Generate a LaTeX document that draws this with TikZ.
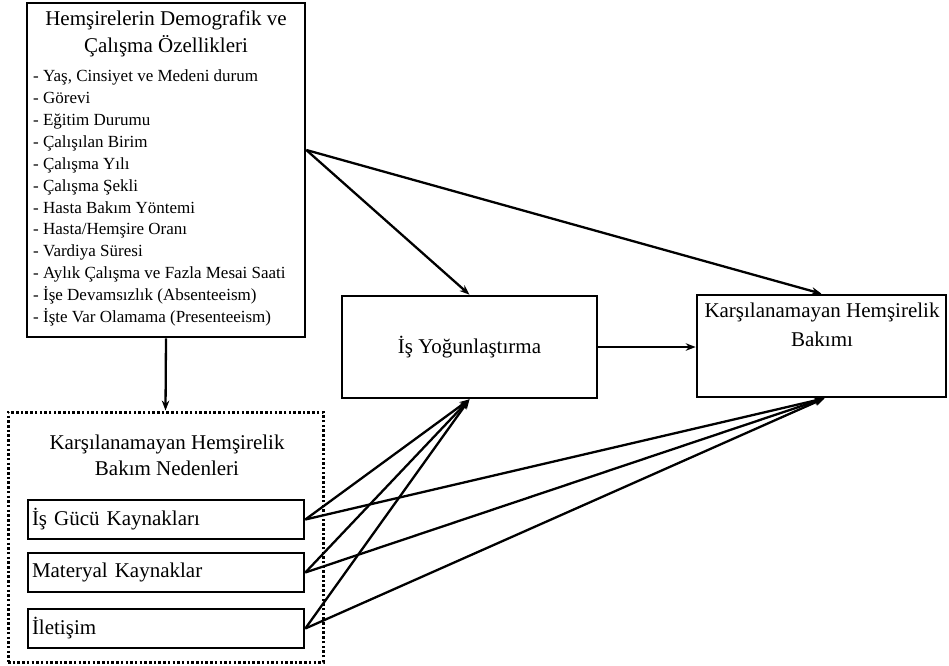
\documentclass[tikz,border=0pt]{standalone}
\usepackage{fontspec}
\setmainfont{Liberation Serif}
\usetikzlibrary{arrows.meta}
\begin{document}
\begin{tikzpicture}[x=1pt,y=-1pt,
  box/.style={draw,line width=2.6pt,inner sep=0pt},
  dotbox/.style={draw,line width=3pt,dash pattern=on 2.5pt off 2.2pt,inner sep=0pt},
  arr/.style={-{Stealth[length=10pt,width=7.5pt]},line width=2.3pt},
  big/.style={font=\fontsize{21}{27}\selectfont,align=center,inner sep=0pt},
  lst/.style={font=\fontsize{17}{21.9}\selectfont,align=left,inner sep=0pt},
  small/.style={box,minimum height=39pt,text width=268pt,inner xsep=4pt,align=left,font=\fontsize{21}{25}\selectfont}]
\useasboundingbox (0,0) rectangle (949,665);
\fill[white] (0,0) rectangle (949,665);

% top box
\node[box,minimum width=278pt,minimum height=334pt] (demo) at (166,170) {};
\node[big] (demotitle) at (166,34) {Hemşirelerin Demografik ve\\Çalışma Özellikleri};
\node[lst,anchor=west] (demolist) at (33,198) {- Yaş, Cinsiyet ve Medeni durum\\- Görevi\\- Eğitim Durumu\\- Çalışılan Birim\\- Çalışma Yılı\\- Çalışma Şekli\\- Hasta Bakım Yöntemi\\- Hasta/Hemşire Oranı\\- Vardiya Süresi\\- Aylık Çalışma ve Fazla Mesai Saati\\- İşe Devamsızlık (Absenteeism)\\- İşte Var Olamama (Presenteeism)};

% middle and right boxes
\node[box,minimum width=255pt,minimum height=102pt,font=\fontsize{21}{25}\selectfont] (work) at (469.5,347) {İş Yoğunlaştırma};
\node[box,minimum width=249pt,minimum height=102pt] (unmet) at (821.5,346) {};
\node[big,font=\fontsize{21}{29}\selectfont] (unmettext) at (822,325) {Karşılanamayan Hemşirelik\\Bakımı};

% reasons
\node[dotbox,minimum width=315pt,minimum height=250pt] (reasons) at (165.5,537) {};
\node[big,font=\fontsize{21}{26}\selectfont] (reasonstitle) at (167,455) {Karşılanamayan Hemşirelik\\Bakım Nedenleri};
\node[small] (r1) at (166,519.5) {İş Gücü Kaynakları};
\node[small] (r2) at (166,572.5) {Materyal Kaynaklar};
\node[small] (r3) at (166,628.5) {İletişim};

% connectors
\coordinate (demoout) at ([yshift=20pt]demo.east);
\draw[arr] (demoout) -- (work.north);
\draw[arr] (demoout) -- (unmet.north);
\draw[arr] (demo.south) -- (reasons.north);
\draw[arr] (work.east) -- (unmet.west |- work.east);
\foreach \r in {r1,r2,r3}{
  \draw[arr] (\r.east) -- (work.south);
  \draw[arr] (\r.east) -- ([xshift=3pt]unmet.south);
}
\end{tikzpicture}
\end{document}
